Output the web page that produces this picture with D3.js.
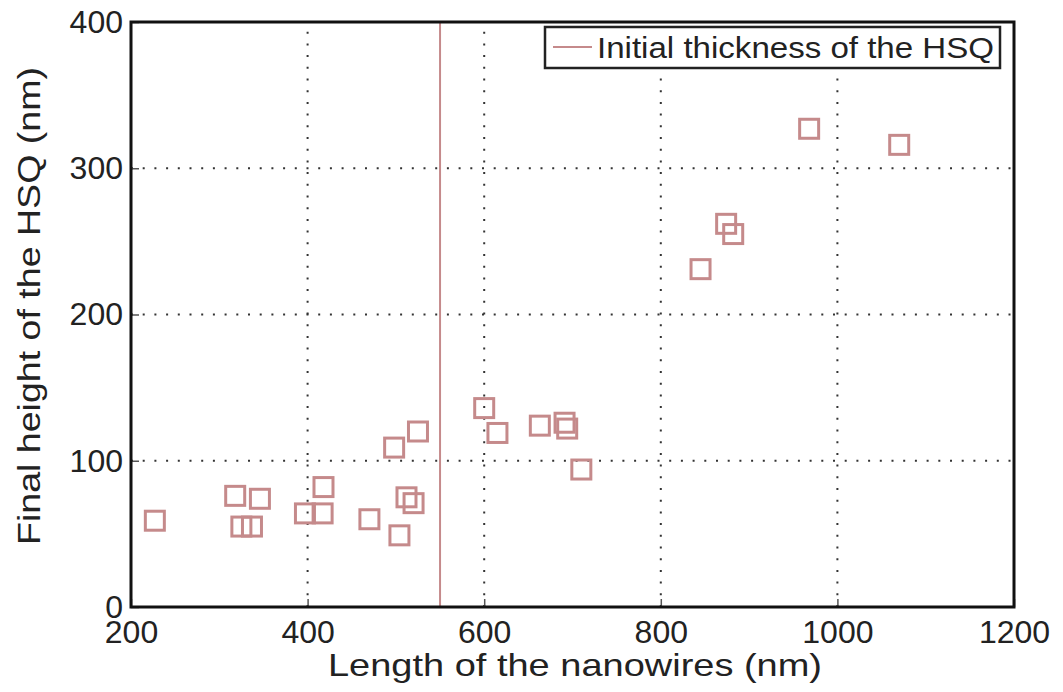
<!DOCTYPE html>
<html>
<head>
<meta charset="utf-8">
<script src="https://cdn.jsdelivr.net/npm/d3@7"></script>
<style>
  body { margin: 0; background: #fff; }
  text { font-family: "Liberation Sans", Arial, sans-serif; fill: #222; }
</style>
</head>
<body>
<div id="chart"></div>
<script>
// nanowire length (nm) vs final HSQ height (nm)
var lengths = [227, 318, 346, 325, 337, 397, 418, 417, 470, 504, 498, 525, 512, 520,
               600, 615, 663, 691, 694, 710, 874, 882, 845, 968, 1070];
var heights = [59, 76, 74, 55, 55, 64, 82, 64, 60, 49, 109, 120, 75, 71,
               136, 119, 124, 126, 122, 94, 262, 255, 231, 327, 316];
var initialThickness = 550;
var xTicks = [200, 400, 600, 800, 1000, 1200];
var yTicks = [0, 100, 200, 300, 400];
var legendLabel = "Initial thickness of the HSQ";

var width = 1063, height = 692;
var margin = {left: 131, right: 49, top: 22, bottom: 85};
var markColor = "#c58a8b";

var svg = d3.select("#chart").append("svg")
    .attr("width", width).attr("height", height);

var x = d3.scaleLinear().domain([200, 1200]).range([margin.left, width - margin.right]);
var y = d3.scaleLinear().domain([0, 400]).range([height - margin.bottom, margin.top]);

// grid
var grid = svg.append("g").attr("stroke", "#333").attr("stroke-width", 2)
    .attr("stroke-dasharray", "2,9.7");
grid.selectAll(".vg").data(xTicks.slice(1, -1)).enter().append("line")
    .attr("x1", d => x(d)).attr("x2", d => x(d))
    .attr("y1", y(0)).attr("y2", y(400));
grid.selectAll(".hg").data(yTicks.slice(1, -1)).enter().append("line")
    .attr("y1", d => y(d)).attr("y2", d => y(d))
    .attr("x1", x(200)).attr("x2", x(1200));

// initial thickness line
svg.append("line")
    .attr("x1", x(initialThickness)).attr("x2", x(initialThickness))
    .attr("y1", y(0)).attr("y2", y(400))
    .attr("stroke", markColor).attr("stroke-width", 2);

// markers
var s = 19;
svg.append("g").selectAll("rect")
    .data(lengths.map((d, i) => ({x: d, y: heights[i]})))
    .enter().append("rect")
    .attr("x", d => x(d.x) - s / 2)
    .attr("y", d => y(d.y) - s / 2)
    .attr("width", s).attr("height", s)
    .attr("fill", "none")
    .attr("stroke", markColor).attr("stroke-width", 3);

// axes (inward ticks, matlab style)
var xAxis = d3.axisBottom(x).tickValues(xTicks).tickFormat(d3.format("d"))
    .tickSizeInner(-8).tickSizeOuter(0).tickPadding(13);
var yAxis = d3.axisLeft(y).tickValues(yTicks).tickFormat(d3.format("d"))
    .tickSizeInner(-8).tickSizeOuter(0).tickPadding(8);

var gx = svg.append("g").attr("transform", `translate(0,${y(0)})`).call(xAxis);
var gy = svg.append("g").attr("transform", `translate(${x(200)},0)`).call(yAxis);
[gx, gy].forEach(g => {
  g.select(".domain").remove();
  g.selectAll(".tick line").attr("stroke", "#555").attr("stroke-width", 1.5);
  g.selectAll(".tick text").attr("font-size", 32).attr("fill", "#222")
    .style("font-family", "'Liberation Sans', Arial, sans-serif");
});
gx.selectAll(".tick text").attr("dy", "0.71em");

// frame
svg.append("rect")
    .attr("x", x(200)).attr("y", y(400))
    .attr("width", x(1200) - x(200)).attr("height", y(0) - y(400))
    .attr("fill", "none").attr("stroke", "#111").attr("stroke-width", 3);

// axis titles (reference glyphs are a bit wider, so stretch to width)
svg.append("text")
    .attr("x", 328).attr("y", 676).attr("font-size", 32)
    .attr("textLength", 494).attr("lengthAdjust", "spacingAndGlyphs")
    .text("Length of the nanowires (nm)");
svg.append("text")
    .attr("transform", "translate(40,545) rotate(-90)")
    .attr("font-size", 32)
    .attr("textLength", 478).attr("lengthAdjust", "spacingAndGlyphs")
    .text("Final height of the HSQ (nm)");

// legend
var lg = svg.append("g");
lg.append("rect")
    .attr("x", 545).attr("y", 27).attr("width", 455).attr("height", 41)
    .attr("fill", "#fff").attr("stroke", "#222").attr("stroke-width", 2.5);
lg.append("line")
    .attr("x1", 553).attr("x2", 592).attr("y1", 47).attr("y2", 47)
    .attr("stroke", markColor).attr("stroke-width", 2);
lg.append("text")
    .attr("x", 597).attr("y", 58).attr("font-size", 29)
    .attr("textLength", 397).attr("lengthAdjust", "spacingAndGlyphs")
    .text(legendLabel);
</script>
</body>
</html>
